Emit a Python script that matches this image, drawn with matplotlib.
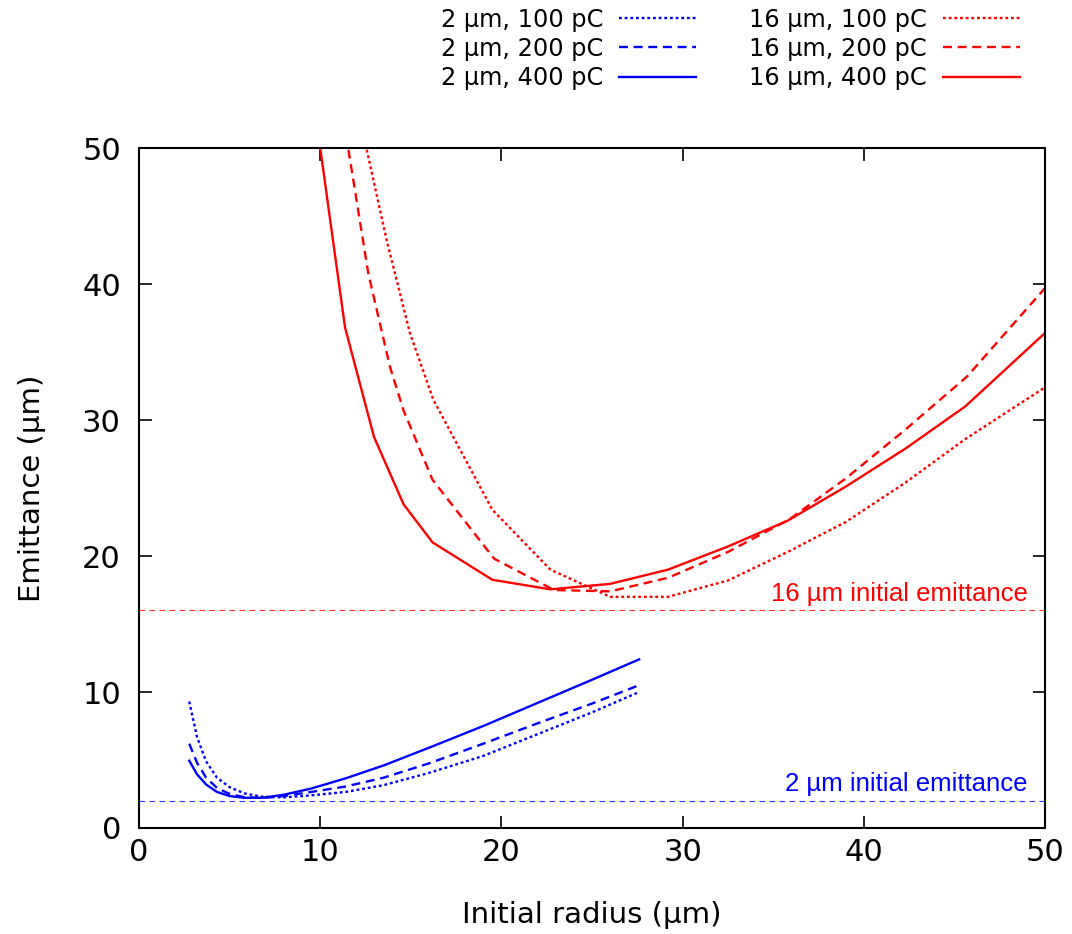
import matplotlib
matplotlib.use("Agg")
import matplotlib.pyplot as plt

# blue: 2 um initial emittance
r_blue = [2.77, 3.2, 3.7, 4.3, 5.0, 5.8, 6.8, 8.0, 9.5, 11.4, 13.5, 16.0, 19.0, 22.0, 25.0, 27.6]
blue_100 = [9.3, 6.7, 4.9, 3.7, 3.0, 2.55, 2.3, 2.25, 2.4, 2.65, 3.15, 4.05, 5.3, 6.9, 8.5, 10.0]
blue_200 = [6.2, 4.8, 3.7, 2.95, 2.5, 2.27, 2.2, 2.35, 2.65, 3.05, 3.7, 4.75, 6.2, 7.7, 9.15, 10.5]
blue_400 = [4.95, 3.95, 3.2, 2.65, 2.35, 2.22, 2.22, 2.45, 2.9, 3.65, 4.6, 5.9, 7.5, 9.2, 10.9, 12.4]

# red: 16 um initial emittance
r_red_100 = [12.3, 13.67, 14.95, 16.24, 19.5, 22.7, 26.0, 29.2, 32.5, 35.8, 39.0, 42.3, 45.6, 50.0]
red_100 = [51.5, 43.2, 36.4, 31.5, 23.4, 19.0, 17.0, 17.0, 18.2, 20.3, 22.5, 25.4, 28.6, 32.4]
r_red_200 = [11.3, 12.65, 13.85, 14.6, 16.2, 19.6, 22.9, 26.0, 29.2, 32.5, 35.9, 39.0, 42.3, 45.7, 50.0]
red_200 = [52.0, 40.8, 33.9, 30.7, 25.6, 19.8, 17.5, 17.4, 18.4, 20.3, 22.7, 25.7, 29.3, 33.2, 39.7]
r_red_400 = [9.74, 11.37, 12.97, 14.6, 16.2, 19.5, 22.7, 26.0, 29.2, 32.5, 35.8, 39.0, 42.3, 45.6, 50.0]
red_400 = [52.5, 36.8, 28.75, 23.8, 21.0, 18.25, 17.55, 17.95, 19.0, 20.7, 22.6, 25.1, 27.9, 31.0, 36.4]

init_blue = 2
init_red = 16

dotted = (0, (1.2, 1.2))
dashed = (0, (3.8, 2.4))
ref_dash = (0, (5, 4))

fig = plt.figure(figsize=(10.72, 9.34), dpi=100)
ax = fig.add_axes([0.1297, 0.1135, 0.8451, 0.728])

lw = 1.7
h1, = ax.plot(r_blue, blue_100, color='#0000ff', lw=lw, linestyle=dotted, label='2 µm, 100 pC')
h2, = ax.plot(r_blue, blue_200, color='#0000ff', lw=lw, linestyle=dashed, label='2 µm, 200 pC')
h3, = ax.plot(r_blue, blue_400, color='#0000ff', lw=lw, linestyle='-', label='2 µm, 400 pC')
h4, = ax.plot(r_red_100, red_100, color='#ff0000', lw=lw, linestyle=dotted, label='16 µm, 100 pC')
h5, = ax.plot(r_red_200, red_200, color='#ff0000', lw=lw, linestyle=dashed, label='16 µm, 200 pC')
h6, = ax.plot(r_red_400, red_400, color='#ff0000', lw=lw, linestyle='-', label='16 µm, 400 pC')

ax.axhline(init_red, color='#ff0000', lw=0.8, linestyle=ref_dash, alpha=0.8)
ax.axhline(init_blue, color='#0000ff', lw=0.8, linestyle=ref_dash, alpha=0.8)
ax.text(49.05, init_red + 0.35, '16 µm initial emittance', color='#ff0000', ha='right',
        va='bottom', fontsize=18.5, family='Liberation Sans')
ax.text(49.05, init_blue + 0.35, '2 µm initial emittance', color='#0000ff', ha='right',
        va='bottom', fontsize=18.5, family='Liberation Sans')

ax.set_xlim(0, 50)
ax.set_ylim(0, 50)
ax.set_xticks(range(0, 51, 10))
ax.set_yticks(range(0, 51, 10))
ax.tick_params(direction='in', length=9, width=1.2, top=True, right=True, labelsize=22)
ax.tick_params(axis='x', pad=7)
ax.tick_params(axis='y', pad=13)
for s in ax.spines.values():
    s.set_linewidth(1.5)
ax.set_xlabel('Initial radius (µm)', fontsize=21, labelpad=25)
ax.set_ylabel('Emittance (µm)', fontsize=21, labelpad=26)

fig.legend(handles=[h1, h2, h3, h4, h5, h6], ncol=2, markerfirst=False, frameon=False,
           fontsize=17.3, handlelength=3.2, handletextpad=0.67, columnspacing=2.2,
           labelspacing=0.22, loc='upper right', bbox_to_anchor=(0.9715, 1.015))

fig.savefig('out.png', dpi=100)
